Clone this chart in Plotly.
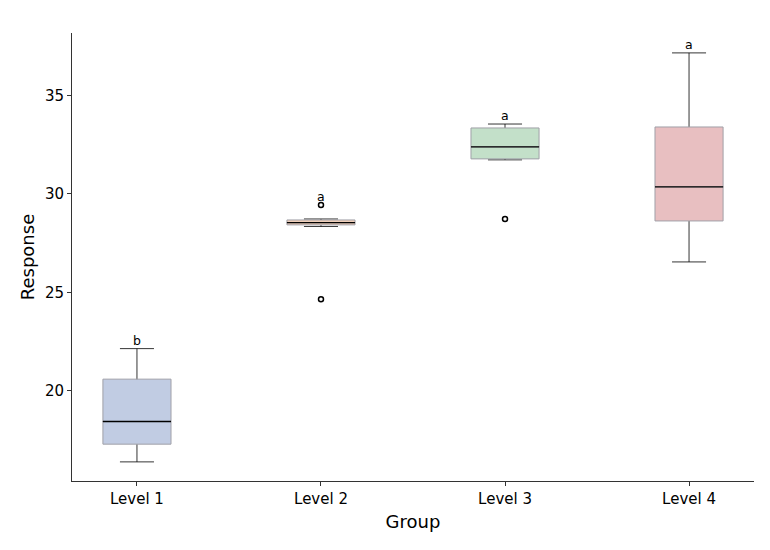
import plotly.graph_objects as go

# box statistics
groups = ["Level 1", "Level 2", "Level 3", "Level 4"]
q1 = [17.3, 28.43, 31.78, 28.63]
median = [18.45, 28.54, 32.39, 30.36]
q3 = [20.6, 28.68, 33.35, 33.40]
lower = [16.4, 28.35, 31.73, 26.55]
upper = [22.15, 28.73, 33.55, 37.16]
outlier_x = ["Level 2", "Level 2", "Level 3"]
outlier_y = [29.44, 24.66, 28.73]
letters = ["b", "a", "a", "a"]
fills = ["#c1cce3", "#f1cfb9", "#c3e0c9", "#e8bfc1"]

fig = go.Figure()

# whiskers (behind the boxes)
fig.add_trace(go.Box(
    x=groups, q1=median, median=median, q3=median,
    lowerfence=lower, upperfence=upper,
    width=0.37, whiskerwidth=0.5,
    line=dict(color="black", width=0.8),
    fillcolor="rgba(0,0,0,0)", boxpoints=False, hoverinfo="skip",
))

# boxes
for i, g in enumerate(groups):
    fig.add_trace(go.Box(
        x=[g], q1=[q1[i]], median=[median[i]], q3=[q3[i]],
        lowerfence=[q1[i]], upperfence=[q3[i]],
        width=0.37, whiskerwidth=0,
        line=dict(color="#a0a0a8", width=1),
        fillcolor=fills[i], boxpoints=False,
    ))

# median lines
fig.add_trace(go.Box(
    x=groups, q1=median, median=median, q3=median,
    lowerfence=median, upperfence=median,
    width=0.37, whiskerwidth=0,
    line=dict(color="black", width=1.3),
    fillcolor="rgba(0,0,0,0)", boxpoints=False, hoverinfo="skip",
))

# outliers
fig.add_trace(go.Scatter(
    x=outlier_x, y=outlier_y, mode="markers",
    marker=dict(symbol="circle-open", size=5, color="black", line=dict(width=1.5)),
))

# letters above highest point of each group
for i, g in enumerate(groups):
    top = max([upper[i]] + [y for x, y in zip(outlier_x, outlier_y) if x == g])
    fig.add_annotation(x=g, y=top, text=letters[i], showarrow=False,
                       yanchor="bottom", yshift=-1, font=dict(size=12.5, color="black"))

fig.update_layout(
    width=770, height=550,
    margin=dict(l=64, r=24, t=25, b=77),
    paper_bgcolor="white", plot_bgcolor="white",
    font=dict(family="DejaVu Sans", color="black"),
    showlegend=False, boxmode="overlay",
    xaxis=dict(
        title=dict(text="Group", font=dict(size=18), standoff=8),
        range=[-0.353, 3.353], showgrid=False, showline=True,
        linecolor="#333333", linewidth=1, ticks="outside", ticklen=4,
        tickcolor="#333333", tickfont=dict(size=15),
    ),
    yaxis=dict(
        title=dict(text="Response", font=dict(size=18), standoff=5),
        range=[15.43, 38.17], tickvals=[20, 25, 30, 35], showgrid=False,
        zeroline=False, showline=True, linecolor="#333333", linewidth=1,
        ticks="outside", ticklen=4, tickcolor="#333333", tickfont=dict(size=15),
    ),
)

fig.write_html("out.html")
